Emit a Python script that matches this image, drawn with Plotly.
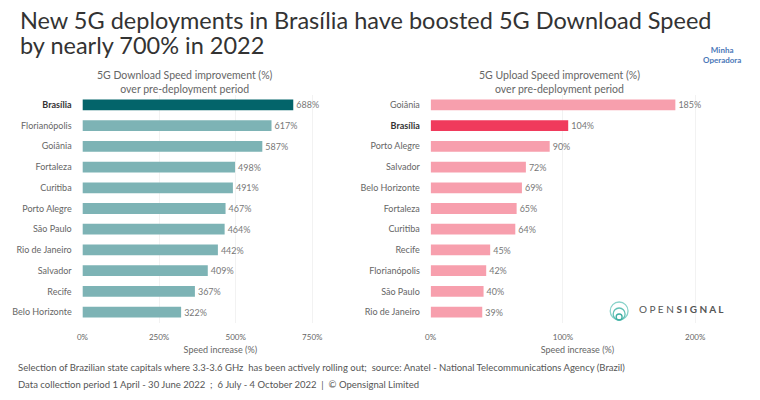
import plotly.graph_objects as go

dl_cities = ["Brasília", "Florianópolis", "Goiânia", "Fortaleza", "Curitiba", "Porto Alegre",
             "São Paulo", "Rio de Janeiro", "Salvador", "Recife", "Belo Horizonte"]
dl_values = [688, 617, 587, 498, 491, 467, 464, 442, 409, 367, 322]

ul_cities = ["Goiânia", "Brasília", "Porto Alegre", "Salvador", "Belo Horizonte", "Fortaleza",
             "Curitiba", "Recife", "Florianópolis", "São Paulo", "Rio de Janeiro"]
ul_values = [185, 104, 90, 72, 69, 65, 64, 45, 42, 40, 39]

dl_ticks = [0, 250, 500, 750]
ul_ticks = [0, 100, 200]

HILITE = "Brasília"
FONT = "Lato"
GRAY = "#666666"

# page has an 8px body margin; figure is sized to fit the window
OFF = 8
W, H = 760 - OFF, 400 - OFF

def px(x):
    return (x - OFF) / W

def py(y):
    return 1 - (y - OFF) / H

def colors(cities, base, hi):
    return [hi if c == HILITE else base for c in cities]

def ticktext(cities):
    return [f"<b><span style='color:#333333'>{c}</span></b>" if c == HILITE else c for c in cities]

fig = go.Figure()
fig.add_trace(go.Bar(
    x=dl_values, y=dl_cities, orientation="h", width=0.52,
    marker=dict(color=colors(dl_cities, "#7DB3B5", "#03646A"), line=dict(width=0)),
    text=[f"{v}%" for v in dl_values], textposition="outside", cliponaxis=False,
    textfont=dict(family=FONT, size=10, color="#777777"),
    xaxis="x", yaxis="y", showlegend=False,
))
fig.add_trace(go.Bar(
    x=ul_values, y=ul_cities, orientation="h", width=0.52,
    marker=dict(color=colors(ul_cities, "#F79FAD", "#F03A5C"), line=dict(width=0)),
    text=[f"{v}%" for v in ul_values], textposition="outside", cliponaxis=False,
    textfont=dict(family=FONT, size=10, color="#777777"),
    xaxis="x2", yaxis="y2", showlegend=False,
))

ydom = [py(322.5), py(94.5)]
axis_common = dict(showline=False, zeroline=False, showgrid=True, gridcolor="#F2F2F2",
                   ticks="outside", ticklen=7, tickcolor="rgba(0,0,0,0)",
                   tickfont=dict(family=FONT, size=8, color=GRAY), fixedrange=True)
ycommon = dict(showgrid=False, zeroline=False, ticks="outside", ticklen=8, tickcolor="rgba(0,0,0,0)",
               tickfont=dict(family=FONT, size=9, color=GRAY), fixedrange=True, autorange="reversed",
               categoryorder="array")
fig.update_layout(
    width=W, height=H, margin=dict(l=0, r=0, t=0, b=0),
    paper_bgcolor="white", plot_bgcolor="white",
    font=dict(family=FONT, color=GRAY),
    xaxis=dict(domain=[px(77), px(355)], range=[0, 900], tickvals=dl_ticks,
               ticktext=[f"{t}%" for t in dl_ticks], anchor="y",
               title=dict(text="Speed increase (%)", font=dict(family=FONT, size=9, color=GRAY), standoff=5),
               **axis_common),
    xaxis2=dict(domain=[px(428), px(724)], range=[0, 222], tickvals=ul_ticks,
                ticktext=[f"{t}%" for t in ul_ticks], anchor="y2",
                title=dict(text="Speed increase (%)", font=dict(family=FONT, size=9, color=GRAY), standoff=5),
                **axis_common),
    yaxis=dict(domain=ydom, categoryarray=dl_cities, tickvals=dl_cities, ticktext=ticktext(dl_cities),
               anchor="x", **ycommon),
    yaxis2=dict(domain=ydom, categoryarray=ul_cities, tickvals=ul_cities, ticktext=ticktext(ul_cities),
                anchor="x2", **ycommon),
)

def note(x, y, text, size, color, xanchor="left", yanchor="middle"):
    fig.add_annotation(xref="paper", yref="paper", x=px(x), y=py(y), xanchor=xanchor, yanchor=yanchor,
                       showarrow=False, text=text, font=dict(family=FONT, size=size, color=color))

# title (two lines)
note(12, 20, "New 5G deployments in Brasília have boosted 5G Download Speed", 23.5, "#333333")
note(12, 45, "by nearly 700% in 2022", 23.5, "#333333")

# panel titles
note(180, 82, "5G Download Speed improvement (%)<br>over pre-deployment period", 10.5, GRAY, "center")
note(558, 82, "5G Upload Speed improvement (%)<br>over pre-deployment period", 10.5, GRAY, "center")

# footer
note(10, 367, "Selection of Brazilian state capitals where 3.3-3.6 GHz  has been actively rolling out;  "
              "source: Anatel - National Telecommunications Agency (Brazil)", 9.5, "#555555")
note(10, 384, "Data collection period 1 April - 30 June 2022  ;  6 July - 4 October 2022  |  © Opensignal Limited",
     9.5, "#555555")

# Opensignal logo
note(636, 309, "O P E N <b>S I G N A L</b>", 10, "#555555")
for r, c in [(9, "#8AD3CA"), (6, "#62C1B6"), (3, "#3FAFA3")]:
    cx, by = 618, 320
    fig.add_shape(type="circle", xref="paper", yref="paper",
                  x0=px(cx - r), x1=px(cx + r), y0=py(by), y1=py(by - 2 * r),
                  line=dict(color=c, width=1.3))

# Minha Operadora watermark
note(722, 55, "<b>Minha<br>Operadora</b>", 8, "#4A78B8", "center")

fig.write_html("out.html")
